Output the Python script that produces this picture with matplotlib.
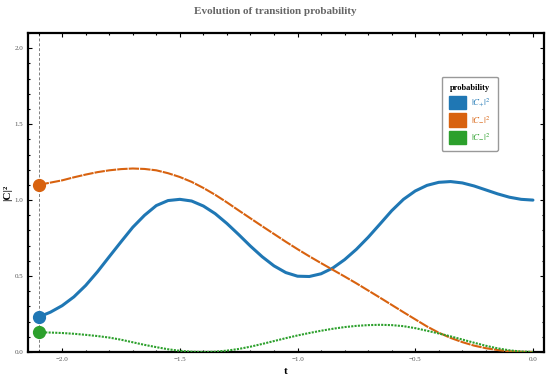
import matplotlib
matplotlib.use('Agg')
import matplotlib.pyplot as plt
from matplotlib.patches import Patch
from matplotlib.ticker import MultipleLocator

# tiempo y probabilidades
t = [-2.10, -2.05, -2.00, -1.95, -1.90, -1.85, -1.80, -1.75, -1.70, -1.65,
     -1.60, -1.55, -1.50, -1.45, -1.40, -1.35, -1.30, -1.25, -1.20, -1.15,
     -1.10, -1.05, -1.00, -0.95, -0.90, -0.85, -0.80, -0.75, -0.70, -0.65,
     -0.60, -0.55, -0.50, -0.45, -0.40, -0.35, -0.30, -0.25, -0.20, -0.15,
     -0.10, -0.05, 0.00]

c_plus = [0.23, 0.262, 0.305, 0.363, 0.438, 0.528, 0.627, 0.725, 0.821, 0.90,
          0.964, 0.997, 1.005, 0.994, 0.961, 0.911, 0.846, 0.773, 0.697, 0.627,
          0.567, 0.523, 0.499, 0.497, 0.515, 0.553, 0.608, 0.676, 0.755, 0.842,
          0.93, 1.005, 1.06, 1.097, 1.117, 1.122, 1.113, 1.093, 1.067, 1.041,
          1.019, 1.005, 1.00]

c_minus = [1.10, 1.115, 1.13, 1.15, 1.168, 1.184, 1.196, 1.204, 1.208, 1.205,
           1.196, 1.177, 1.152, 1.12, 1.08, 1.035, 0.985, 0.932, 0.88, 0.828,
           0.777, 0.726, 0.677, 0.63, 0.585, 0.541, 0.497, 0.452, 0.405, 0.358,
           0.31, 0.262, 0.215, 0.168, 0.127, 0.093, 0.065, 0.042, 0.025, 0.013,
           0.005, 0.001, 0.0]

c_zero = [0.13, 0.128, 0.125, 0.12, 0.113, 0.105, 0.095, 0.081, 0.064, 0.047,
          0.032, 0.018, 0.008, 0.002, 0.0, 0.002, 0.009, 0.02, 0.035, 0.053,
          0.072, 0.091, 0.109, 0.125, 0.14, 0.153, 0.164, 0.172, 0.177, 0.179,
          0.177, 0.17, 0.157, 0.14, 0.122, 0.103, 0.082, 0.061, 0.041, 0.024,
          0.011, 0.003, 0.0]

labels = [r'$|C_{+}|^2$', r'$|C_{-}|^2$', r'$|C_{-}|^2$']
colores = ['#1f77b4', '#d8620f', '#2ca02c']

plt.rcParams['font.family'] = ['Liberation Serif', 'DejaVu Serif']
plt.rcParams['mathtext.fontset'] = 'stix'

fig = plt.figure(figsize=(5.5, 3.8), dpi=100)
ax = fig.add_axes([28 / 550, 28 / 380, 516 / 550, 319 / 380])

ax.axvline(t[0], color='gray', lw=0.7, ls=(0, (3, 2)), zorder=1)

ax.plot(t, c_plus, color=colores[0], lw=2.2, solid_capstyle='round',
        solid_joinstyle='round', zorder=3)
ax.plot(t, c_minus, color=colores[1], lw=1.5, ls=(0, (5, 0.5)), zorder=3)
ax.plot(t, c_zero, color=colores[2], lw=1.5, ls=(0, (1, 0.6)), zorder=3)

for serie, col in zip([c_plus, c_minus, c_zero], colores):
    ax.plot(t[0], serie[0], 'o', color=col, ms=8.5, zorder=4)

ax.set_xlim(-2.145, 0.047)
ax.set_ylim(0, 2.1)
ax.xaxis.set_major_locator(MultipleLocator(0.5))
ax.xaxis.set_minor_locator(MultipleLocator(0.1))
ax.yaxis.set_major_locator(MultipleLocator(0.5))
ax.yaxis.set_minor_locator(MultipleLocator(0.1))
ax.tick_params(which='both', direction='in', top=True, right=True,
               labelsize=5, labelcolor='#555555', width=0.8)
ax.tick_params(which='major', length=3)
ax.tick_params(which='minor', length=1.5)
for s in ax.spines.values():
    s.set_linewidth(1.6)

ax.set_xlabel('t', fontsize=8, fontweight='bold', labelpad=4)
ax.set_ylabel('|C|²', fontsize=8, fontweight='bold')
ax.yaxis.set_label_coords(-0.031, 0.5)
fig.text(0.5, 1 - 12 / 380, 'Evolution of transition probability',
         ha='center', va='center', fontsize=8, fontweight='bold', color='#666666')

handles = [Patch(facecolor=c, edgecolor=c) for c in colores]
leg = ax.legend(handles, labels, title='probability', loc='upper left',
                bbox_to_anchor=(437 / 550, 1 - 72 / 380),
                bbox_transform=fig.transFigure, fontsize=6.5,
                title_fontproperties={'weight': 'bold', 'size': 6},
                handlelength=1.9, handleheight=1.9, handletextpad=0.6,
                labelspacing=0.45, borderpad=0.8, fancybox=True, framealpha=1,
                edgecolor='#999999')
for txt, col in zip(leg.get_texts(), colores):
    txt.set_color(col)

fig.savefig('out.png', dpi=100)
